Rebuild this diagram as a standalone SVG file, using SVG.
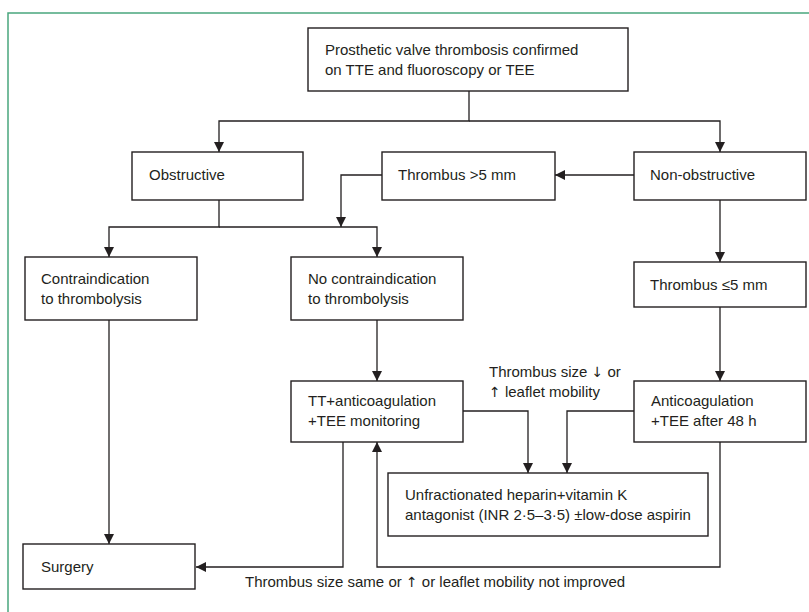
<svg xmlns="http://www.w3.org/2000/svg" width="809" height="612" viewBox="0 0 809 612">
<style>
.box{fill:#fff;stroke:#231f20;stroke-width:1.4}
.ln{fill:none;stroke:#231f20;stroke-width:1.3}
.t{font-family:"Liberation Sans",Arial,sans-serif;font-size:15px;fill:#231f20}
.ar{font-family:"DejaVu Sans",sans-serif;font-size:14px}
</style>
<defs>
<marker id="ah" markerUnits="userSpaceOnUse" markerWidth="11" markerHeight="11" refX="10" refY="5" orient="auto">
<path d="M0,0 L10,5 L0,10 z" fill="#231f20"/>
</marker>
</defs>
<rect x="0" y="0" width="809" height="612" fill="#fff"/>
<path d="M8,612 V13 H809" fill="none" stroke="#4aa67d" stroke-width="1.5"/>
<g id="connectors">
<path class="ln" d="M469,91 V121 H219 V152" marker-end="url(#ah)"/>
<path class="ln" d="M469,121 H720 V152" marker-end="url(#ah)"/>
<path class="ln" d="M634,175 H555" marker-end="url(#ah)"/>
<path class="ln" d="M382,175 H341 V227" marker-end="url(#ah)"/>
<path class="ln" d="M219,200 V227 H109 V257" marker-end="url(#ah)"/>
<path class="ln" d="M219,227 H377 V257" marker-end="url(#ah)"/>
<path class="ln" d="M720,200 V262" marker-end="url(#ah)"/>
<path class="ln" d="M109,320 V544" marker-end="url(#ah)"/>
<path class="ln" d="M377,320 V381" marker-end="url(#ah)"/>
<path class="ln" d="M720,307 V381" marker-end="url(#ah)"/>
<path class="ln" d="M463,411 H528 V473" marker-end="url(#ah)"/>
<path class="ln" d="M634,411 H567 V473" marker-end="url(#ah)"/>
<path class="ln" d="M343,442 V567 H196" marker-end="url(#ah)"/>
<path class="ln" d="M720,442 V567 H377 V442" marker-end="url(#ah)"/>
<text class="t" x="489" y="377">Thrombus size <tspan class="ar">↓</tspan> or</text>
<text class="t" x="489" y="397"><tspan class="ar">↑</tspan> leaflet mobility</text>
<text class="t" x="245" y="587">Thrombus size same or <tspan class="ar">↑</tspan> or leaflet mobility not improved</text>
</g>
<g id="n-top">
<rect class="box" x="308" y="28" width="320" height="63"/>
<text class="t" x="325" y="55">Prosthetic valve thrombosis confirmed</text>
<text class="t" x="325" y="75">on TTE and fluoroscopy or TEE</text>
</g>
<g id="n-obstructive">
<rect class="box" x="132" y="152" width="171" height="48"/>
<text class="t" x="149" y="180">Obstructive</text>
</g>
<g id="n-thrombus-gt5">
<rect class="box" x="382" y="152" width="173" height="48"/>
<text class="t" x="398" y="180">Thrombus &gt;5 mm</text>
</g>
<g id="n-nonobstructive">
<rect class="box" x="634" y="152" width="172" height="48"/>
<text class="t" x="650" y="180">Non-obstructive</text>
</g>
<g id="n-contra">
<rect class="box" x="25" y="257" width="172" height="63"/>
<text class="t" x="41" y="284">Contraindication</text>
<text class="t" x="41" y="304">to thrombolysis</text>
</g>
<g id="n-nocontra">
<rect class="box" x="291" y="257" width="172" height="63"/>
<text class="t" x="308" y="284">No contraindication</text>
<text class="t" x="308" y="304">to thrombolysis</text>
</g>
<g id="n-thrombus-le5">
<rect class="box" x="634" y="262" width="172" height="45"/>
<text class="t" x="650" y="290">Thrombus ≤5 mm</text>
</g>
<g id="n-tt">
<rect class="box" x="291" y="381" width="172" height="61"/>
<text class="t" x="308" y="406">TT+anticoagulation</text>
<text class="t" x="308" y="426">+TEE monitoring</text>
</g>
<g id="n-anticoag">
<rect class="box" x="634" y="381" width="172" height="61"/>
<text class="t" x="651" y="406">Anticoagulation</text>
<text class="t" x="651" y="426">+TEE after 48 h</text>
</g>
<g id="n-unfrac">
<rect class="box" x="388" y="473" width="320" height="63"/>
<text class="t" x="405" y="500">Unfractionated heparin+vitamin K</text>
<text class="t" x="405" y="520">antagonist (INR 2·5–3·5) ±low-dose aspirin</text>
</g>
<g id="n-surgery">
<rect class="box" x="23" y="544" width="172" height="45"/>
<text class="t" x="41" y="572">Surgery</text>
</g>
</svg>
